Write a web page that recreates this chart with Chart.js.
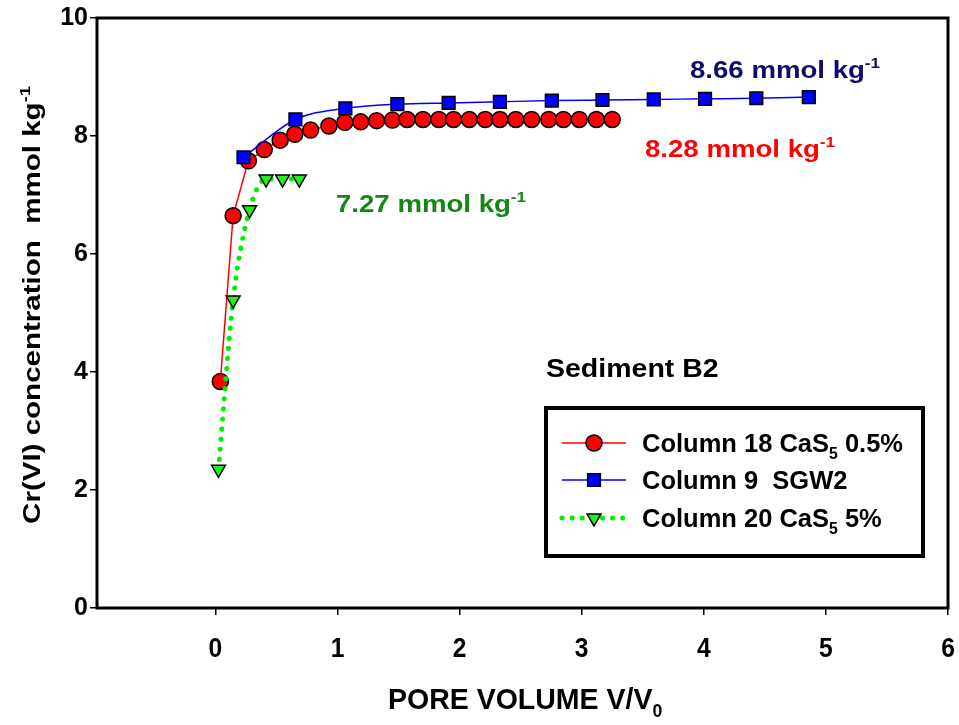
<!DOCTYPE html>
<html>
<head>
<meta charset="utf-8">
<script src="https://cdn.jsdelivr.net/npm/chart.js@4.4.1/dist/chart.umd.min.js"></script>
<style>
  html, body { margin: 0; padding: 0; background: #fff; }
  #wrap { width: 959px; height: 725px; position: relative; }
</style>
</head>
<body>
<div id="wrap"><canvas id="chart"></canvas></div>
<script>
// Column 18 CaS5 0.5%
const redX = [0.04, 0.145, 0.27, 0.40, 0.53, 0.65, 0.78, 0.93, 1.06, 1.19, 1.32, 1.45, 1.57,
              1.70, 1.83, 1.95, 2.08, 2.21, 2.33, 2.46, 2.59, 2.73, 2.85, 2.98, 3.12, 3.25];
const redY = [3.84, 6.65, 7.58, 7.77, 7.93, 8.03, 8.10, 8.17, 8.23, 8.24, 8.26, 8.27, 8.28,
              8.28, 8.28, 8.28, 8.28, 8.28, 8.28, 8.28, 8.28, 8.28, 8.28, 8.28, 8.28, 8.28];
// Column 9 SGW2
const blueX = [0.23, 0.655, 1.064, 1.49, 1.91, 2.33, 2.755, 3.17, 3.59, 4.01, 4.43, 4.86];
const blueY = [7.64, 8.28, 8.47, 8.54, 8.56, 8.58, 8.60, 8.61, 8.62, 8.63, 8.64, 8.66];
// Column 20 CaS5 5%
const greenX = [0.025, 0.145, 0.28, 0.415, 0.55, 0.687];
const greenY = [2.35, 5.22, 6.75, 7.27, 7.27, 7.27];

const xTicks = [0, 1, 2, 3, 4, 5, 6];
const yTicks = [0, 2, 4, 6, 8, 10];

const FONT = '"Liberation Sans", Arial, sans-serif';

const pts = (xs, ys) => xs.map((x, i) => ({ x: x, y: ys[i] }));

// text with sub/superscripts and optional horizontal stretch
function richWidth(ctx, parts, size) {
  let w = 0;
  parts.forEach(p => {
    const s = p.sub || p.sup ? size * 0.62 : size;
    ctx.font = 'bold ' + s + 'px ' + FONT;
    w += ctx.measureText(p.t).width;
  });
  return w;
}
function drawRich(ctx, parts, x, y, size, color, sx) {
  ctx.save();
  ctx.translate(x, y);
  ctx.scale(sx || 1, 1);
  ctx.fillStyle = color;
  ctx.textBaseline = 'alphabetic';
  ctx.textAlign = 'left';
  let cx = 0;
  parts.forEach(p => {
    const s = p.sub || p.sup ? size * 0.62 : size;
    const dy = p.sub ? size * 0.28 : (p.sup ? -size * 0.42 : 0);
    ctx.font = 'bold ' + s + 'px ' + FONT;
    ctx.fillText(p.t, cx, dy);
    cx += ctx.measureText(p.t).width;
  });
  ctx.restore();
}

function marker(ctx, style, x, y, r, fill) {
  ctx.save();
  ctx.fillStyle = fill;
  ctx.strokeStyle = '#000';
  ctx.lineWidth = 1.5;
  ctx.beginPath();
  if (style === 'circle') {
    ctx.arc(x, y, r, 0, Math.PI * 2);
  } else if (style === 'rect') {
    const s = r * Math.SQRT1_2;
    ctx.rect(x - s, y - s, 2 * s, 2 * s);
  } else {
    const h = r * Math.sqrt(3) / 2;
    ctx.moveTo(x - h, y - r / 2);
    ctx.lineTo(x + h, y - r / 2);
    ctx.lineTo(x, y + r);
    ctx.closePath();
  }
  ctx.fill();
  ctx.stroke();
  ctx.restore();
}

const unit = [{ t: ' mmol kg' }, { t: '-1', sup: true }];

const decor = {
  id: 'decor',
  afterDraw(chart) {
    const ctx = chart.ctx;
    const a = chart.chartArea;
    const xs = chart.scales.x;

    // frame
    ctx.save();
    ctx.strokeStyle = '#000';
    ctx.lineWidth = 3;
    ctx.strokeRect(a.left, a.top, a.right - a.left, a.bottom - a.top);
    ctx.restore();

    // x tick labels (condensed look)
    xTicks.forEach(v => {
      const w = richWidth(ctx, [{ t: String(v) }], 28) * 0.88;
      drawRich(ctx, [{ t: String(v) }], xs.getPixelForValue(v) - w / 2, 657, 28, '#000', 0.88);
    });

    // annotations
    drawRich(ctx, [{ t: '8.66' }].concat(unit), 690, 78, 24, '#0e0e6a', 1.15);
    drawRich(ctx, [{ t: '8.28' }].concat(unit), 645, 157, 24, '#ff0000', 1.15);
    drawRich(ctx, [{ t: '7.27' }].concat(unit), 336, 212, 24, '#118811', 1.15);
    drawRich(ctx, [{ t: 'Sediment B2' }], 546, 377, 25, '#000', 1.14);

    // legend box
    ctx.save();
    ctx.strokeStyle = '#000';
    ctx.lineWidth = 4;
    ctx.strokeRect(546, 408, 377, 148);
    ctx.restore();

    const rows = [
      { y: 443, color: '#ff0000', dash: [], w: 1.5, style: 'circle', r: 8, fill: '#ff0000',
        label: [{ t: 'Column 18 CaS' }, { t: '5', sub: true }, { t: ' 0.5%' }] },
      { y: 480, color: '#0000ff', dash: [], w: 1.5, style: 'rect', r: 9, fill: '#0000ff',
        label: [{ t: 'Column 9  SGW2' }] },
      { y: 518, color: '#00ee00', dash: [0.1, 10], w: 5, style: 'tri', r: 8, fill: '#22ee22',
        label: [{ t: 'Column 20 CaS' }, { t: '5', sub: true }, { t: ' 5%' }] }
    ];
    rows.forEach(r => {
      ctx.save();
      ctx.strokeStyle = r.color;
      ctx.lineWidth = r.w;
      ctx.lineCap = r.dash.length ? 'round' : 'butt';
      ctx.setLineDash(r.dash);
      ctx.beginPath();
      ctx.moveTo(562, r.y);
      ctx.lineTo(626, r.y);
      ctx.stroke();
      ctx.restore();
      marker(ctx, r.style, 594, r.y, r.r, r.fill);
      drawRich(ctx, r.label, 642, r.y + 9, 25.5, '#000', 1);
    });

    // axis titles
    const yt = [{ t: 'Cr(VI) concentration  mmol kg' }, { t: '-1', sup: true }];
    const ysx = 1.23;
    const yw = richWidth(ctx, yt, 24) * ysx;
    ctx.save();
    ctx.translate(40, (a.top + a.bottom) / 2 - 8);
    ctx.rotate(-Math.PI / 2);
    drawRich(ctx, yt, -yw / 2, 0, 24, '#000', ysx);
    ctx.restore();

    drawRich(ctx, [{ t: 'PORE VOLUME V/V' }, { t: '0', sub: true }], 388, 709, 30, '#000', 0.95);
  }
};

new Chart(document.getElementById('chart'), {
  type: 'scatter',
  data: {
    datasets: [
      {
        label: 'Column 18 CaS5 0.5%',
        data: pts(redX, redY),
        showLine: true,
        borderColor: '#ff0000',
        borderWidth: 1.5,
        pointStyle: 'circle',
        pointRadius: 8,
        pointBackgroundColor: '#ff0000',
        pointBorderColor: '#000',
        pointBorderWidth: 1.5,
        order: 3
      },
      {
        label: 'Column 9  SGW2',
        data: pts(blueX, blueY),
        showLine: true,
        borderColor: '#0000ff',
        borderWidth: 1.5,
        cubicInterpolationMode: 'monotone',
        pointStyle: 'rect',
        pointRadius: 9,
        pointBackgroundColor: '#0000ff',
        pointBorderColor: '#000',
        pointBorderWidth: 1.5,
        order: 2
      },
      {
        label: 'Column 20 CaS5 5%',
        data: pts(greenX, greenY),
        showLine: true,
        borderColor: '#00ee00',
        borderWidth: 5,
        borderDash: [0.1, 10],
        borderCapStyle: 'round',
        cubicInterpolationMode: 'monotone',
        pointStyle: 'triangle',
        rotation: 180,
        pointRadius: 8,
        pointBackgroundColor: '#22ee22',
        pointBorderColor: '#000',
        pointBorderWidth: 1.5,
        order: 1
      }
    ]
  },
  options: {
    responsive: true,
    maintainAspectRatio: false,
    animation: false,
    layout: { padding: { top: 18, right: 11, left: 0, bottom: 0 } },
    plugins: {
      legend: { display: false },
      tooltip: { enabled: false }
    },
    scales: {
      x: {
        type: 'linear',
        min: -0.97,
        max: 6,
        afterBuildTicks: s => { s.ticks = xTicks.map(v => ({ value: v })); },
        afterFit: s => { s.height = 117; s.paddingLeft = 0; s.paddingRight = 0; },
        border: { display: false },
        grid: { drawOnChartArea: false, drawTicks: true, tickLength: 7, color: '#000', lineWidth: 1.5 },
        ticks: { display: false }
      },
      y: {
        min: 0,
        max: 10,
        afterBuildTicks: s => { s.ticks = yTicks.map(v => ({ value: v })); },
        afterFit: s => { s.width = 97; s.paddingTop = 0; s.paddingBottom = 0; },
        border: { display: false },
        grid: { drawOnChartArea: false, drawTicks: true, tickLength: 7, color: '#000', lineWidth: 1.5 },
        ticks: {
          color: '#000',
          padding: 2,
          font: { family: FONT, size: 25, weight: 'bold' }
        }
      }
    }
  },
  plugins: [decor]
});
</script>
</body>
</html>
